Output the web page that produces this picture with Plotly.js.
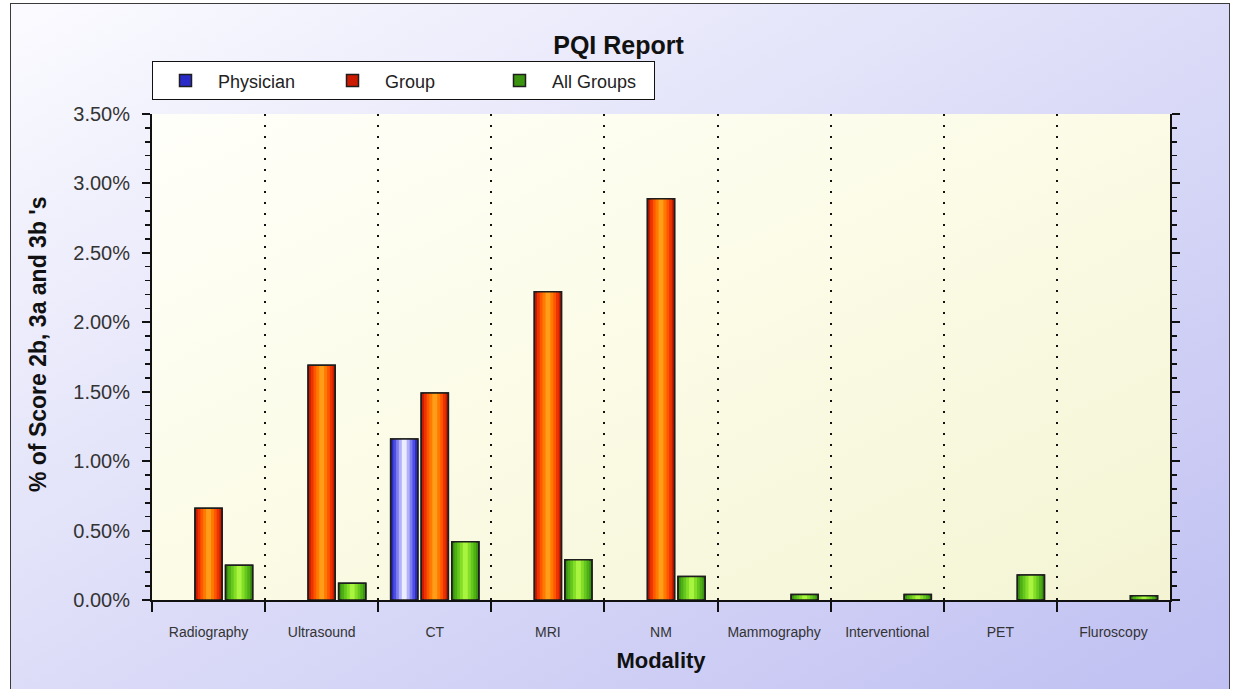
<!DOCTYPE html>
<html>
<head>
<meta charset="utf-8">
<script src="https://cdn.plot.ly/plotly-3.0.1.min.js"></script>
<style>
  html, body { margin: 0; padding: 0; background: #ffffff; }
  #wrap { position: relative; width: 1237px; height: 689px; overflow: hidden; background: #ffffff; }
  #frame { position: absolute; left: 10px; top: 3px; width: 1220px; height: 700px;
           border: 1px solid #3a3a3a; box-sizing: border-box;
           background: linear-gradient(to bottom right, #fbfbff 0%, #dcdcf8 50%, #bfbff2 100%); }
  #plotbg { position: absolute; left: 152px; top: 114px; width: 1018px; height: 486px;
            background: linear-gradient(to bottom right, #fffffa 0%, #fbfbe6 50%, #f4f4d4 100%); }
  #chart { position: absolute; left: 0; top: 0; width: 1237px; height: 689px; }
</style>
</head>
<body>
<div id="wrap">
  <div id="frame"></div>
  <div id="plotbg"></div>
  <div id="chart"></div>
</div>
<script>
// ---- data ----
const categories = ['Radiography', 'Ultrasound', 'CT', 'MRI', 'NM', 'Mammography', 'Interventional', 'PET', 'Fluroscopy'];
const physician  = [0, 0, 1.16, 0, 0, 0, 0, 0, 0];
const group      = [0.66, 1.69, 1.49, 2.22, 2.89, 0, 0, 0, 0];
const allGroups  = [0.25, 0.12, 0.42, 0.29, 0.17, 0.04, 0.04, 0.18, 0.03];
const seriesNames = ['Physician', 'Group', 'All Groups'];
const yTickVals = [0, 0.5, 1, 1.5, 2, 2.5, 3, 3.5];
const yTickText = yTickVals.map(function (v) { return v.toFixed(2) + '%'; });

// ---- styling ----
const slot = 0.27;      // distance between bar centres (category units)
const barW = 0.24;      // bar width (category units)
const shades = {
  'Physician':  ['#2a2ac8', '#4e4ee0', '#7e7ef0', '#b2b2fa', '#ececff'],
  'Group':      ['#cc1a00', '#ec3400', '#ff5600', '#ff7a00', '#ff9c18'],
  'All Groups': ['#3a9410', '#4fb016', '#66c81e', '#84de28', '#a8f43e']
};
const fractions = [1.0, 0.8, 0.6, 0.4, 0.18];
const outline = '#1e1e1e';

const traces = [];
const seriesData = [physician, group, allGroups];
seriesData.forEach(function (vals, si) {
  const name = seriesNames[si];
  const centre = (si - 1) * slot;
  const shown = vals.map(function (v) { return v === 0 ? null : v; });  // empty bars are not drawn
  fractions.forEach(function (f, li) {
    const w = barW * f;
    traces.push({
      type: 'bar', x: categories, y: shown, name: name,
      legendgroup: name, showlegend: li === 0,
      width: w, offset: centre - w / 2,
      marker: { color: shades[name][li],
                line: li === 0 ? { color: outline, width: 1.5 } : { width: 0 } },
      hoverinfo: 'skip'
    });
  });
  // outline on top
  traces.push({
    type: 'bar', x: categories, y: shown, name: name,
    legendgroup: name, showlegend: false,
    width: barW, offset: centre - barW / 2,
    marker: { color: 'rgba(0,0,0,0)', line: { color: outline, width: 1.5 } },
    hoverinfo: 'skip'
  });
});

const nb = '\u00a0';
const layout = {
  width: 1237, height: 689,
  margin: { l: 152, r: 67, t: 114, b: 89, pad: 0 },
  paper_bgcolor: 'rgba(0,0,0,0)',
  plot_bgcolor: 'rgba(0,0,0,0)',
  barmode: 'overlay',
  font: { family: 'Liberation Sans, Arial, sans-serif', color: '#222222' },
  title: { text: '<b>PQI Report</b>', x: 0.5, xref: 'container', y: 1 - 45 / 689, yref: 'container',
           yanchor: 'middle', font: { size: 25, color: '#111111' } },
  showlegend: true,
  legend: {
    orientation: 'h', x: 0, xanchor: 'left', y: 1.028, yanchor: 'bottom',
    bgcolor: '#ffffff', bordercolor: '#111111', borderwidth: 1,
    font: { size: 18, color: '#222222' },
    entrywidth: 97, entrywidthmode: 'pixels', itemwidth: 55,
    traceorder: 'normal', tracegroupgap: 0, valign: 'middle'
  },
  xaxis: {
    type: 'category', range: [-0.5, categories.length - 0.5],
    tickson: 'boundaries', ticks: 'outside', ticklen: 10, tickwidth: 2, tickcolor: '#111111',
    showline: true, linecolor: '#111111', linewidth: 2,
    showgrid: true, gridcolor: '#111111', gridwidth: 2, griddash: '2px,9px',
    tickfont: { size: 14, color: '#333333' },
    ticklabelstandoff: 18,
    title: { text: '<b>Modality</b>', font: { size: 22, color: '#111111' }, standoff: 14 },
    fixedrange: true
  },
  yaxis: {
    range: [0, 3.5], tickmode: 'array', tickvals: yTickVals, ticktext: yTickText,
    ticks: 'outside', ticklen: 8, tickwidth: 2, tickcolor: '#111111',
    minor: { dtick: 0.1, ticks: 'outside', ticklen: 5, tickwidth: 1.5, tickcolor: '#111111', showgrid: false },
    showline: true, linecolor: '#111111', linewidth: 2, mirror: 'ticks',
    showgrid: false, zeroline: false,
    tickfont: { size: 20, color: '#333333' },
    ticklabelstandoff: 8,
    title: { text: '<b>' + nb.repeat(4) + "% of Score 2b, 3a and 3b 's</b>", font: { size: 23, color: '#111111' }, standoff: 20 },
    fixedrange: true
  }
};

Plotly.newPlot('chart', traces, layout, { displayModeBar: false, staticPlot: true });
</script>
</body>
</html>
